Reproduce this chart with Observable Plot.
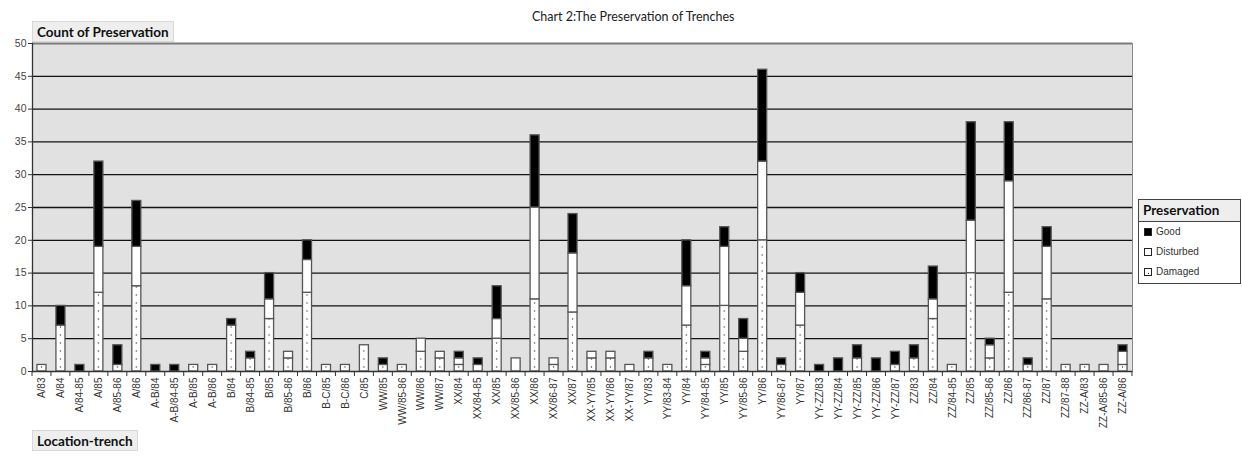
<!DOCTYPE html>
<html>
<head>
<meta charset="utf-8">
<script src="https://cdn.jsdelivr.net/npm/d3@7"></script>
<script src="https://cdn.jsdelivr.net/npm/@observablehq/plot@0.6"></script>
<style>
  body { margin: 0; background: #fff; }
  #wrap { position: relative; width: 1242px; height: 462px; overflow: hidden; font-family: "Liberation Sans", Arial, sans-serif; }
  #wrap svg.chart { position: absolute; left: 0; top: 0; }
  .title { position: absolute; top: 9px; left: 532px; width: 200px; text-align: center; font-family: Lato, sans-serif; font-size: 12.5px; color: #222; white-space: nowrap; }
  .boxlabel { position: absolute; font-family: Lato, sans-serif; font-weight: bold; font-size: 13.5px; color: #111; background: #eeeeee; border: 1px solid #d8d8d8; padding: 2px 4px 1px 4px; white-space: nowrap; }
  .legend { position: absolute; left: 1138px; top: 199px; width: 103px; height: 85px; border: 1px solid #444; background: #fff; box-sizing: border-box; }
  .legend .lt { font-family: Lato, sans-serif; font-weight: bold; font-size: 13.5px; color: #111; background: #eeeeee; border-bottom: 1px solid #444; padding: 2px 4px; height: 17px; }
  .legend .it { position: relative; height: 20px; font-size: 10px; color: #333; padding-left: 17px; line-height: 20px; }
  .legend .sw { position: absolute; left: 5px; top: 6px; width: 6px; height: 6px; border: 1px solid #222; background: #fff; }
  .legend .sw.good { background: #000; }
  .legend .sw.dmg::after { content: ""; position: absolute; left: 3px; top: 4px; width: 1px; height: 1px; background: #222; }
</style>
</head>
<body>
<div id="wrap">
  <div class="title">Chart 2:The Preservation of Trenches</div>
  <div class="boxlabel" style="left:32px;top:21px;">Count of Preservation</div>
  <div class="boxlabel" style="left:32px;top:430px;">Location-trench</div>
  <div class="legend">
    <div class="lt">Preservation</div>
    <div class="it"><span class="sw good"></span>Good</div>
    <div class="it"><span class="sw"></span>Disturbed</div>
    <div class="it"><span class="sw dmg"></span>Damaged</div>
  </div>
</div>
<script>
// Location-trench categories, in axis order
const trenches = [
  "A/83","A/84","A/84-85","A/85","A/85-86","A/86",
  "A-B/84","A-B/84-85","A-B/85","A-B/86",
  "B/84","B/84-85","B/85","B/85-86","B/86",
  "B-C/85","B-C/86","C/85",
  "WW/85","WW/85-86","WW/86","WW/87",
  "XX/84","XX/84-85","XX/85","XX/85-86","XX/86","XX/86-87","XX/87",
  "XX-YY/85","XX-YY/86","XX-YY/87",
  "YY/83","YY/83-84","YY/84","YY/84-85","YY/85","YY/85-86","YY/86","YY/86-87","YY/87",
  "YY-ZZ/83","YY-ZZ/84","YY-ZZ/85","YY-ZZ/86","YY-ZZ/87",
  "ZZ/83","ZZ/84","ZZ/84-85","ZZ/85","ZZ/85-86","ZZ/86","ZZ/86-87","ZZ/87","ZZ/87-88",
  "ZZ-A/83","ZZ-A/85-86","ZZ-A/86"
];

// Counts per preservation state
const damaged = [
  1,7,0,12,1,13,
  0,0,1,1,
  7,2,8,2,12,
  1,1,4,
  1,1,3,2,
  1,0,5,0,11,1,9,
  2,2,0,
  2,1,7,1,10,3,20,1,7,
  0,0,2,0,1,
  2,8,1,15,2,12,1,11,1,
  1,0,1
];
const disturbed = [
  0,0,0,7,0,6,
  0,0,0,0,
  0,0,3,1,5,
  0,0,0,
  0,0,2,1,
  1,1,3,2,14,1,9,
  1,1,1,
  0,0,6,1,9,2,12,0,5,
  0,0,0,0,0,
  0,3,0,8,2,17,0,8,0,
  0,1,2
];
const good = [
  0,3,1,13,3,7,
  1,1,0,0,
  1,1,4,0,3,
  0,0,0,
  1,0,0,0,
  1,1,5,0,11,0,6,
  0,0,0,
  1,0,7,1,3,3,14,1,3,
  1,2,2,2,2,
  2,5,0,15,1,9,1,3,0,
  0,0,1
];

const states = ["Damaged", "Disturbed", "Good"];
const yTicks = [0, 5, 10, 15, 20, 25, 30, 35, 40, 45, 50];

const rows = [];
trenches.forEach((t, i) => {
  [[states[0], damaged[i]], [states[1], disturbed[i]], [states[2], good[i]]].forEach(([s, v]) => {
    if (v > 0) rows.push({trench: t, state: s, count: v});
  });
});

const W = 1242, H = 462, mL = 32, mR = 110, mT = 43, mB = 91;
const n = trenches.length;
const pad = 0.524;

const chart = Plot.plot({
  width: W,
  height: H,
  marginLeft: mL,
  marginRight: mR,
  marginTop: mT,
  marginBottom: mB,
  style: {background: "transparent", fontFamily: "'Liberation Sans', Arial, sans-serif"},
  x: {domain: trenches, paddingInner: pad, paddingOuter: pad / 2, align: 0.5, label: null},
  y: {domain: [0, 50], label: null},
  color: {type: "ordinal", domain: states, range: ["url(#dotfill)", "#ffffff", "#000000"]},
  marks: [
    Plot.frame({fill: "#e1e1e1", stroke: "#8a8a8a", strokeWidth: 1}),
    Plot.ruleY(yTicks.filter(v => v > 0 && v < 50), {stroke: "#111", strokeWidth: 1.3}),
    Plot.ruleY([50], {stroke: "#7a7a7a", strokeWidth: 2}),
    Plot.barY(rows, Plot.stackY({
      x: "trench", y: "count", fill: "state",
      order: states,
      stroke: "#555", strokeWidth: 1.3
    })),
    Plot.ruleY([0], {stroke: "#333", strokeWidth: 1.3}),
    Plot.frame({anchor: "left", stroke: "#333", strokeWidth: 1.3}),
    Plot.axisY(yTicks, {tickSize: 4, tickPadding: 2, fontSize: 10.5, color: "#444", stroke: "#333", label: null}),
    Plot.axisX({tickSize: 0, tickPadding: 6, tickRotate: -90, fontSize: 10, color: "#333", label: null})
  ]
});
chart.classList.add("chart");

// dotted fill used for the Damaged segments, one dot column per bar
const xs = chart.scale("x");
const step = xs.step;
const svg = d3.select(chart);
const defs = svg.insert("defs", ":first-child");
const pat = defs.append("pattern")
  .attr("id", "dotfill")
  .attr("patternUnits", "userSpaceOnUse")
  .attr("x", xs.apply(trenches[0]) + xs.bandwidth / 2 - step / 2)
  .attr("y", H - mB)
  .attr("width", step)
  .attr("height", 8);
pat.append("rect").attr("width", step).attr("height", 8).attr("fill", "#fff");
pat.append("rect").attr("x", step / 2 - 0.6).attr("y", 3.4).attr("width", 1.2).attr("height", 1.2).attr("fill", "#333");

// category boundary tick marks under the x axis
const g = svg.append("g").attr("stroke", "#333").attr("stroke-width", 1);
const bottom = H - mB;
for (let k = 0; k <= n; k++) {
  const x = xs.apply(trenches[0]) + xs.bandwidth / 2 - step / 2 + k * step;
  g.append("line").attr("x1", x).attr("x2", x).attr("y1", bottom).attr("y2", bottom + 5);
}

document.getElementById("wrap").prepend(chart);
</script>
</body>
</html>
